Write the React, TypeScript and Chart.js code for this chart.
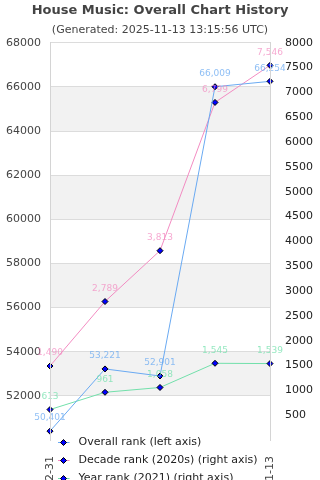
import React, { useEffect, useRef } from 'react';
import { Chart, registerables } from 'chart.js';

Chart.register(...registerables);

const TITLE = 'House Music: Overall Chart History';
const SUBTITLE = '(Generated: 2025-11-13 13:15:56 UTC)';

const categories = ['2021-12-31', '2022-12-31', '2023-12-31', '2024-12-31', '2025-11-13'];
const seriesNames = [
  'Overall rank (left axis)',
  'Decade rank (2020s) (right axis)',
  'Year rank (2021) (right axis)',
];
const overallRank = [50401, 53221, 52901, 66009, 66254];
const decadeRank = [1490, 2789, 3813, 6799, 7546];
const yearRank = [613, 961, 1058, 1545, 1539];

const leftMin = 50000;
const leftMax = 68000;
const leftStep = 2000;
const rightMin = 0;
const rightMax = 8000;
const rightStep = 500;

const FONT = "'DejaVu Sans', sans-serif";
const lineColors = ['#6aaaf2', '#f38cc2', '#72e0ab'];
const labelColors = ['rgba(106,170,242,0.75)', 'rgba(243,140,194,0.75)', 'rgba(114,224,171,0.75)'];

const X_AXIS_H = 80;

function makeIcon(color: string) {
  const c = document.createElement('canvas');
  c.width = 22;
  c.height = 9;
  const ctx = c.getContext('2d')!;
  ctx.strokeStyle = color;
  ctx.lineWidth = 1;
  ctx.beginPath();
  ctx.moveTo(4, 4.5);
  ctx.lineTo(15.5, 4.5);
  ctx.stroke();
  ctx.beginPath();
  ctx.moveTo(9.5, 1.5);
  ctx.lineTo(12.5, 4.5);
  ctx.lineTo(9.5, 7.5);
  ctx.lineTo(6.5, 4.5);
  ctx.closePath();
  ctx.fillStyle = '#0000ff';
  ctx.fill();
  ctx.strokeStyle = '#000';
  ctx.stroke();
  return c;
}

const bandsPlugin = {
  id: 'bands',
  beforeDraw(chart: any) {
    const { ctx, chartArea, scales } = chart;
    const y = scales.y;
    ctx.save();
    ctx.fillStyle = '#f2f2f2';
    let k = 0;
    for (let v = leftMax; v > leftMin; v -= leftStep, k++) {
      if (k % 2 === 1) {
        const top = y.getPixelForValue(v);
        const bottom = y.getPixelForValue(v - leftStep);
        ctx.fillRect(chartArea.left, top, chartArea.right - chartArea.left, bottom - top);
      }
    }
    ctx.restore();
  },
};

const valueLabelsPlugin = {
  id: 'valueLabels',
  afterDatasetsDraw(chart: any) {
    const ctx = chart.ctx;
    ctx.save();
    ctx.font = `9px ${FONT}`;
    ctx.textAlign = 'center';
    ctx.textBaseline = 'middle';
    chart.data.datasets.forEach((ds: any, i: number) => {
      const meta = chart.getDatasetMeta(i);
      ctx.fillStyle = labelColors[i];
      meta.data.forEach((pt: any, j: number) => {
        ctx.fillText(Number(ds.data[j]).toLocaleString('en-US'), pt.x, pt.y - 13);
      });
    });
    ctx.restore();
  },
};

const legendNudgePlugin = {
  id: 'legendNudge',
  afterLayout(chart: any) {
    const lg = chart.legend;
    if (lg) {
      const shift = X_AXIS_H + 10;
      lg.top -= shift;
      lg.bottom -= shift;
    }
  },
};

export default function App() {
  const ref = useRef<HTMLCanvasElement>(null);

  useEffect(() => {
    document.body.style.margin = '0';
    const icons = lineColors.map(makeIcon);
    const dataSets = [overallRank, decadeRank, yearRank];
    const axes = ['y', 'y1', 'y1'];
    const chart = new Chart(ref.current!, {
      type: 'line',
      data: {
        labels: categories,
        datasets: dataSets.map((d, i) => ({
          label: seriesNames[i],
          data: d,
          yAxisID: axes[i],
          borderColor: lineColors[i],
          backgroundColor: lineColors[i],
          borderWidth: 1,
          tension: 0,
          pointStyle: 'rectRot',
          pointRadius: 3,
          pointHoverRadius: 3,
          pointBackgroundColor: '#0000ff',
          pointBorderColor: '#000',
          pointBorderWidth: 1,
        })),
      },
      options: {
        responsive: true,
        maintainAspectRatio: false,
        animation: false,
        layout: { padding: 0 },
        plugins: {
          title: {
            display: true,
            text: TITLE,
            color: '#444',
            font: { family: FONT, size: 13, weight: 'bold' },
            padding: { top: 3, bottom: 0 },
          },
          subtitle: {
            display: true,
            text: SUBTITLE,
            color: '#444',
            font: { family: FONT, size: 11 },
            padding: { top: 5, bottom: 6 },
          },
          legend: {
            position: 'bottom',
            align: 'start',
            fullSize: false,
            labels: {
              usePointStyle: true,
              pointStyleWidth: 16,
              padding: 7,
              color: '#222',
              font: { family: FONT, size: 11 },
              generateLabels(c: any) {
                const items = (Chart as any).defaults.plugins.legend.labels.generateLabels(c);
                return items.map((it: any, i: number) => ({ ...it, pointStyle: icons[i] }));
              },
            },
          },
          tooltip: { enabled: false },
        },
        scales: {
          x: {
            grid: { display: false, drawTicks: false },
            border: { display: false },
            ticks: {
              autoSkip: false,
              minRotation: 90,
              maxRotation: 90,
              padding: 16,
              color: '#444',
              font: { family: FONT, size: 11 },
              callback: (_v: any, index: number, ticks: any[]) =>
                index === 0 || index === ticks.length - 1 ? categories[index] : '',
            },
            afterFit(s: any) {
              s.height = X_AXIS_H;
            },
          },
          y: {
            position: 'left',
            min: leftMin,
            max: leftMax,
            ticks: {
              stepSize: leftStep,
              padding: 9,
              color: '#444',
              font: { family: FONT, size: 11 },
              callback: (v: any) => String(v),
            },
            grid: { color: '#dcdcdc', drawTicks: false },
            border: { color: '#d4d4d4', z: 1 },
            afterFit(s: any) {
              s.width = 50;
            },
            afterBuildTicks(s: any) {
              s.ticks = s.ticks.filter((t: any) => t.value !== leftMin);
            },
          },
          y1: {
            position: 'right',
            min: rightMin,
            max: rightMax,
            ticks: {
              stepSize: rightStep,
              padding: 15,
              color: '#222',
              font: { family: FONT, size: 11 },
              callback: (v: any) => String(v),
            },
            grid: { drawOnChartArea: false, drawTicks: false },
            border: { color: '#d4d4d4', z: 1 },
            afterFit(s: any) {
              s.width = 50;
            },
            afterBuildTicks(s: any) {
              s.ticks = s.ticks.filter((t: any) => t.value !== rightMin);
            },
          },
        },
      } as any,
      plugins: [bandsPlugin, valueLabelsPlugin, legendNudgePlugin],
    });
    return () => chart.destroy();
  }, []);

  return (
    <div style={{ position: 'relative', width: 320, height: 440 + X_AXIS_H + 64 }}>
      <canvas ref={ref} />
    </div>
  );
}
